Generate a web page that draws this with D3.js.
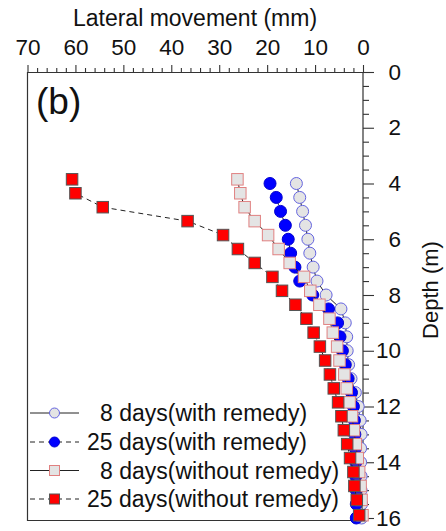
<!DOCTYPE html>
<html>
<head>
<meta charset="utf-8">
<script src="https://cdn.jsdelivr.net/npm/d3@7"></script>
<style>
  html, body { margin: 0; padding: 0; background: #fff; }
  svg { display: block; font-family: "Liberation Sans", Arial, sans-serif; }
</style>
</head>
<body>
<svg id="chart" width="446" height="531"></svg>
<script>
// Depths (m) of the inclinometer readings
const depthWith = [4, 4.5, 5, 5.5, 6, 6.5, 7, 7.5, 8, 8.5, 9, 9.5, 10, 10.5, 11, 11.5, 12, 12.5, 13, 13.5, 14, 14.5, 15, 15.5, 16];
const depthWithout = [3.85, 4.35, 4.85, 5.35, 5.85, 6.35, 6.85, 7.35, 7.85, 8.35, 8.85, 9.35, 9.85, 10.35, 10.85, 11.35, 11.85, 12.35, 12.85, 13.35, 13.85, 14.35, 14.85, 15.35, 15.9];

// Lateral movement (mm)
const with8 = [13.9, 13.2, 12.6, 12.0, 11.5, 11.1, 10.4, 9.6, 7.7, 4.6, 3.7, 3.4, 3.3, 3.0, 2.5, 1.6, 1.0, 0.6, 0.4, 0.5, 0.5, 0.4, 0.4, 0.3, 0.3];
const with25 = [19.4, 18.1, 17.2, 16.2, 15.6, 15.1, 14.2, 13.2, 10.5, 7.2, 5.3, 4.8, 4.3, 3.7, 3.1, 2.4, 2.0, 1.8, 1.7, 1.6, 1.5, 1.5, 1.4, 1.4, 1.4];
const without8 = [26.2, 25.6, 24.7, 22.6, 19.8, 17.6, 15.3, 12.3, 11.0, 9.1, 7.0, 6.3, 5.4, 4.9, 3.9, 3.4, 2.8, 2.3, 1.9, 1.5, 1.1, 0.8, 0.5, 0.3, 0.1];
const without25 = [60.7, 60.0, 54.3, 36.6, 29.2, 26.1, 22.6, 18.9, 16.9, 14.1, 11.8, 10.3, 9.0, 7.9, 6.9, 6.1, 5.2, 4.5, 4.0, 3.3, 2.7, 2.0, 1.8, 1.3, 0.8];

const seriesNames = ["8 days(with remedy)", "25 days(with remedy)", "8 days(without remedy)", "25 days(without remedy)"];
const xTicksMajor = [70, 60, 50, 40, 30, 20, 10, 0];
const yTicksMajor = [0, 2, 4, 6, 8, 10, 12, 14, 16];

const svg = d3.select("#chart");
const axisColor = "#333";

const x = d3.scaleLinear().domain([70, 0]).range([27.5, 363]);
const y = d3.scaleLinear().domain([0, 16]).range([72, 518]);
const frameBottom = 520.5;

// Series styling
const styles = [
  { values: with8, depth: depthWith, shape: "circle", fill: "#e4e4e4", stroke: "#6464e0", dash: null },
  { values: with25, depth: depthWith, shape: "circle", fill: "#0000ff", stroke: "#0000d0", dash: "5,4" },
  { values: without8, depth: depthWithout, shape: "square", fill: "#e4e4e4", stroke: "#e08080", dash: null },
  { values: without25, depth: depthWithout, shape: "square", fill: "#ff0000", stroke: "#555", dash: "5,4" }
];

// Frame: left, bottom and right edges
svg.append("path")
  .attr("d", `M${x(70)},${y(0)} V${frameBottom} H${x(0)} V${y(0)}`)
  .attr("fill", "none").attr("stroke", axisColor).attr("stroke-width", 1.2);

// Top axis (lateral movement)
const topAxis = d3.axisTop(x)
  .tickValues(d3.range(0, 70.1, 2))
  .tickSizeOuter(0)
  .tickFormat(d => xTicksMajor.includes(d) ? d : "");
const gTop = svg.append("g").attr("transform", `translate(0,${y(0)})`).call(topAxis);
gTop.select(".domain").attr("stroke", axisColor).attr("stroke-width", 1.2);
gTop.selectAll(".tick line")
  .attr("stroke", axisColor).attr("stroke-width", 1.1)
  .attr("y2", d => xTicksMajor.includes(d) ? -7 : -4);
gTop.selectAll(".tick text")
  .attr("y", -17).attr("fill", "#111")
  .style("font-size", "22.5px").style("font-family", "'Liberation Sans', Arial, sans-serif");

// Right axis (depth)
const rightAxis = d3.axisRight(y)
  .tickValues(d3.range(0, 16.01, 0.5))
  .tickSizeOuter(0)
  .tickFormat(d => yTicksMajor.includes(d) ? d : "");
const gRight = svg.append("g").attr("transform", `translate(${x(0)},0)`).call(rightAxis);
gRight.select(".domain").attr("stroke", "none");
gRight.selectAll(".tick line")
  .attr("stroke", axisColor).attr("stroke-width", 1.1)
  .attr("x2", d => yTicksMajor.includes(d) ? 11 : 6);
gRight.selectAll(".tick text")
  .attr("x", 38).attr("text-anchor", "end").attr("fill", "#111")
  .style("font-size", "22.5px").style("font-family", "'Liberation Sans', Arial, sans-serif");

// Axis titles
svg.append("text")
  .attr("x", 195).attr("y", 26).attr("text-anchor", "middle")
  .attr("fill", "#111").style("font-size", "23px")
  .text("Lateral movement (mm)");
svg.append("text")
  .attr("transform", "translate(438,290) rotate(-90)")
  .attr("text-anchor", "middle").attr("fill", "#111").style("font-size", "22px")
  .text("Depth (m)");

// Panel label
svg.append("text")
  .attr("x", 36).attr("y", 114).attr("fill", "#111").style("font-size", "37px")
  .text("(b)");

// Marker drawing helper
function drawMarker(sel, s, cx, cy, size) {
  if (s.shape === "circle") {
    sel.append("circle").attr("cx", cx).attr("cy", cy).attr("r", size / 2)
      .attr("fill", s.fill).attr("stroke", s.stroke).attr("stroke-width", 1);
  } else {
    sel.append("rect").attr("x", cx - size / 2).attr("y", cy - size / 2)
      .attr("width", size).attr("height", size)
      .attr("fill", s.fill).attr("stroke", s.stroke).attr("stroke-width", 1);
  }
}

const line = d3.line().x(d => x(d[0])).y(d => y(d[1]));

styles.forEach(s => {
  const pts = s.values.map((v, i) => [v, s.depth[i]]);
  const g = svg.append("g");
  g.append("path").datum(pts).attr("d", line)
    .attr("fill", "none").attr("stroke", "#222").attr("stroke-width", 1)
    .attr("stroke-dasharray", s.dash);
  pts.forEach(p => drawMarker(g, s, x(p[0]), y(p[1]), s.shape === "circle" ? 12 : 11.5));
});

// Legend
const legendY = [413, 442, 470.5, 499];
const legendTextX = [100, 87, 100, 87];
styles.forEach((s, i) => {
  const g = svg.append("g");
  g.append("line").attr("x1", 30).attr("x2", 79).attr("y1", legendY[i]).attr("y2", legendY[i])
    .attr("stroke", "#222").attr("stroke-width", 1).attr("stroke-dasharray", s.dash);
  drawMarker(g, s, 54.5, legendY[i], 10);
  g.append("text").attr("x", legendTextX[i]).attr("y", legendY[i] + 8)
    .attr("fill", "#111").style("font-size", "23px").text(seriesNames[i]);
});
</script>
</body>
</html>
